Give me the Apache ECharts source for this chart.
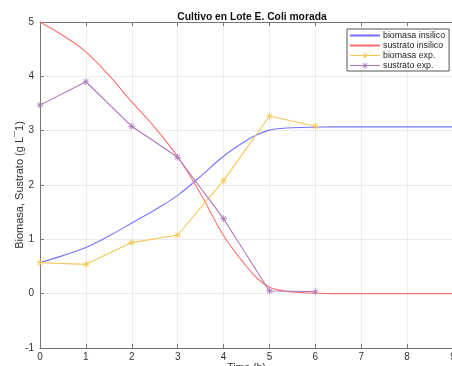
<!DOCTYPE html>
<html>
<head>
<meta charset="utf-8">
<script src="https://cdn.jsdelivr.net/npm/echarts@6/dist/echarts.min.js"></script>
<style>html,body{margin:0;padding:0;background:#fff}#c{width:452px;height:366px}</style>
</head>
<body>
<div id="c"></div>
<script>
// Model time grid (h)
var tModel = [0, 0.5, 1, 1.5, 2, 2.5, 3, 3.5, 4, 4.5, 4.75, 5, 5.25, 5.5, 6, 6.5, 7, 7.5, 8, 8.5, 9];
var biomasaInsilico = [0.57, 0.70, 0.85, 1.06, 1.30, 1.54, 1.81, 2.16, 2.53, 2.82, 2.935, 3.01, 3.04, 3.055, 3.065, 3.07, 3.07, 3.07, 3.07, 3.07, 3.07];
var sustratoInsilico = [5.0, 4.75, 4.45, 4.02, 3.53, 3.06, 2.52, 1.84, 1.07, 0.50, 0.27, 0.12, 0.06, 0.03, 0.01, 0.0, 0.0, 0.0, 0.0, 0.0, 0.0];
// Experimental data
var tExp = [0, 1, 2, 3, 4, 5, 6];
var biomasaExp = [0.57, 0.54, 0.94, 1.08, 2.08, 3.27, 3.08];
var sustratoExp = [3.47, 3.90, 3.08, 2.51, 1.38, 0.05, 0.04];
var xTicks = [0, 1, 2, 3, 4, 5, 6, 7, 8, 9];

function pairs(xs, ys) { return xs.map(function (x, i) { return [x, ys[i]]; }); }

var star = 'path://M9,0 L11,0 L11,20 L9,20 Z M0,9 L20,9 L20,11 L0,11 Z M2.2,3.6 L3.6,2.2 L17.8,16.4 L16.4,17.8 Z M16.4,2.2 L17.8,3.6 L3.6,17.8 L2.2,16.4 Z';
var cBlue = '#7373ff', cRed = '#ff6e6e', cYellow = '#f5c655', cPurple = '#a878bb';

var chart = echarts.init(document.getElementById('c'));
var gridLine = { show: true, lineStyle: { color: '#ececec', width: 1 } };
var font = 'Liberation Sans, Arial';
chart.setOption({
  animation: false,
  backgroundColor: '#fff',
  title: {
    text: 'Cultivo en Lote E. Coli morada',
    left: 247, top: 7, textAlign: 'center',
    textStyle: { fontFamily: font, fontSize: 10.3, fontWeight: 'bold', color: '#111' }
  },
  legend: {
    orient: 'vertical',
    left: 347, top: 29,
    padding: [2, 4, 1, 2],
    backgroundColor: '#fff',
    borderColor: '#555', borderWidth: 1,
    itemWidth: 30, itemHeight: 8, itemGap: 1,
    textStyle: { fontFamily: font, fontSize: 8.8, lineHeight: 8, color: '#222', padding: [0, 0, 0, -2] },
    data: [
      { name: 'biomasa insilico', itemStyle: { opacity: 0 } },
      { name: 'sustrato insilico', itemStyle: { opacity: 0 } },
      { name: 'biomasa exp.', lineStyle: { color: cYellow, width: 1.1 } },
      { name: 'sustrato exp.', lineStyle: { color: cPurple, width: 1.1 } }
    ]
  },
  grid: { left: 40, top: 22, right: -1, bottom: 18, containLabel: false, outerBoundsMode: 'none' },
  xAxis: [{
    type: 'value', min: 0, max: 9, interval: 1,
    name: 'Time (h)', nameLocation: 'middle', nameGap: 15, nameMoveOverlap: false,
    nameTextStyle: { fontFamily: font, fontSize: 10.5, color: '#333', verticalAlign: 'top' },
    axisLine: { show: true, onZero: false, lineStyle: { color: '#777' } },
    axisTick: { show: true, inside: true, length: 4, lineStyle: { color: '#777' } },
    axisLabel: { fontFamily: font, fontSize: 10, color: '#333', margin: 4,
      formatter: function (v) { return xTicks.indexOf(v) >= 0 ? String(v) : ''; } },
    splitLine: gridLine
  }, {
    type: 'value', min: 0, max: 9, interval: 1, position: 'top',
    axisLine: { show: true, onZero: false, lineStyle: { color: '#777' } },
    axisTick: { show: true, inside: true, length: 4, lineStyle: { color: '#777' } },
    axisLabel: { show: false }, splitLine: { show: false }
  }],
  yAxis: [{
    type: 'value', min: -1, max: 5, interval: 1,
    name: 'Biomasa, Sustrato (g L\u00AF1)', nameLocation: 'middle', nameGap: 15, nameMoveOverlap: false,
    nameTextStyle: { fontFamily: font, fontSize: 11, color: '#333' },
    axisLine: { show: true, onZero: false, lineStyle: { color: '#777' } },
    axisTick: { show: true, inside: true, length: 4, lineStyle: { color: '#777' } },
    axisLabel: { fontFamily: font, fontSize: 10, color: '#333', margin: 6 },
    splitLine: gridLine
  }],
  series: [{
    name: 'biomasa insilico', type: 'line', data: pairs(tModel, biomasaInsilico),
    smooth: 0.4, showSymbol: false, symbol: 'none',
    itemStyle: { color: cBlue }, lineStyle: { color: cBlue, width: 1.1 }, z: 3
  }, {
    name: 'sustrato insilico', type: 'line', data: pairs(tModel, sustratoInsilico),
    smooth: 0.4, showSymbol: false, symbol: 'none',
    itemStyle: { color: cRed }, lineStyle: { color: cRed, width: 1.1 }, z: 3
  }, {
    name: 'biomasa exp.', type: 'line', data: pairs(tExp, biomasaExp),
    symbol: star, symbolSize: 7,
    itemStyle: { color: cYellow }, lineStyle: { color: cYellow, width: 1.1 }, z: 4
  }, {
    name: 'sustrato exp.', type: 'line', data: pairs(tExp, sustratoExp),
    symbol: star, symbolSize: 7,
    itemStyle: { color: cPurple }, lineStyle: { color: cPurple, width: 1.1 }, z: 4
  }]
});
</script>
</body>
</html>
